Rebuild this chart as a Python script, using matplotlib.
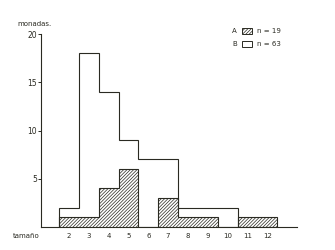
import matplotlib.pyplot as plt
import numpy as np
from matplotlib.patches import Rectangle

# tamaño (clases) y número de mónadas por clase
sizes = [2, 3, 4, 5, 6, 7, 8, 9, 10, 11, 12]
count_a = [1, 1, 4, 6, 0, 3, 1, 1, 0, 1, 1]      # n = 19
count_b = [2, 18, 14, 9, 7, 7, 2, 2, 2, 0, 0]    # n = 63
y_ticks = [5, 10, 15, 20]

INK = '#2a2a22'
plt.rcParams['hatch.linewidth'] = 0.5
plt.rcParams['hatch.color'] = INK

fig = plt.figure(figsize=(3.35, 2.5), dpi=100)
ax = fig.add_axes([41 / 335, 23 / 250, 256 / 335, 193 / 250])

edges = np.arange(sizes[0] - 0.5, sizes[-1] + 1.0, 1.0)

# A: rayado
ax.stairs(count_a, edges, fill=True, facecolor='white', edgecolor=INK,
          hatch='//////////', linewidth=0.8)
# B: solo contorno
ax.stairs(count_b, edges, fill=False, edgecolor=INK, linewidth=0.8)

ax.set_xlim(edges[0] - 0.91, edges[-1] + 1.0)
ax.set_ylim(0, 20)

for s in ['top', 'right']:
    ax.spines[s].set_visible(False)
ax.spines['left'].set_color(INK)
ax.spines['bottom'].set_color(INK)
ax.spines['left'].set_linewidth(0.8)
ax.spines['bottom'].set_linewidth(0.8)

ax.set_yticks(y_ticks)
ax.set_yticklabels([str(v) for v in y_ticks], fontsize=5.5, color=INK)
ax.tick_params(axis='y', length=2, width=0.7, pad=1, color=INK)
ax.set_xticks(sizes)
ax.set_xticklabels([str(v) for v in sizes], fontsize=5, color=INK)
ax.tick_params(axis='x', length=0, pad=4)

fig.text(17 / 335, 1 - 24 / 250, 'monadas.', fontsize=5, color=INK,
         va='center', ha='left')
fig.text(13 / 335, 1 - 236 / 250, 'tamaño', fontsize=5, color=INK,
         va='center', ha='left')

# leyenda
legend_rows = [('A', 'n = 19', '//////////', 31), ('B', 'n = 63', None, 44)]
for letter, label, hatch, ypx in legend_rows:
    yc = 1 - ypx / 250
    fig.text(232 / 335, yc, letter, fontsize=5, color=INK, va='center')
    fig.patches.append(Rectangle((242 / 335, yc - 3 / 250), 10 / 335, 6 / 250,
                                 transform=fig.transFigure, fill=hatch is not None,
                                 facecolor='white', edgecolor=INK,
                                 hatch=hatch, linewidth=0.7))
    fig.text(257 / 335, yc, label, fontsize=5, color=INK, va='center')

fig.savefig('out.png', dpi=100)
